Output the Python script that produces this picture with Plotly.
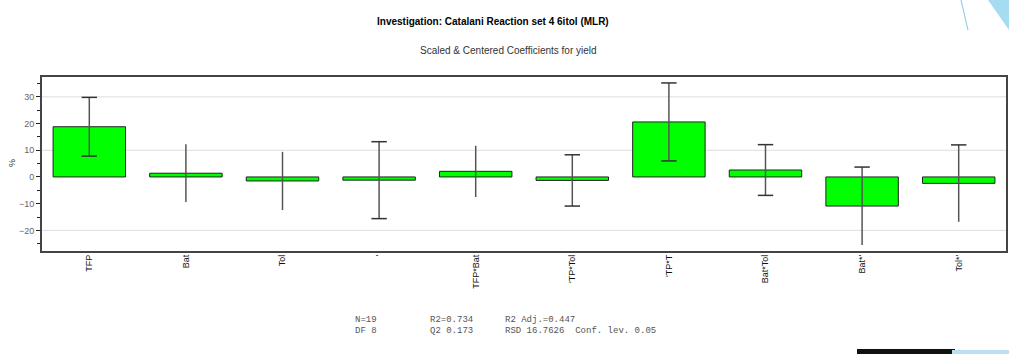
import plotly.graph_objects as go

# ---- data ----
terms = ["TFP", "Bat", "Tol", "'", "TFP*Bat", "'TP*Tol", "'TP*T", "Bat*Tol", "Bat*'", "Tol*'"]
coef = [18.8, 1.4, -1.5, -1.2, 2.1, -1.3, 20.6, 2.6, -10.9, -2.4]
conf = [11.0, 10.8, 10.9, 14.4, 9.6, 9.6, 14.6, 9.5, 14.6, 14.4]
cap_top = [1, 0, 0, 1, 0, 1, 1, 1, 1, 1]
cap_bottom = [1, 0, 0, 1, 0, 1, 1, 1, 0, 0]
grid_vals = [30, 10, -20]
stats_line1 = ["N=19", "R2=0.734", "R2 Adj.=0.447"]
stats_line2 = ["DF 8", "Q2 0.173", "RSD 16.7626  Conf. lev. 0.05"]

W, H = 1009, 354
L, R, T, B = 41, 2, 76, 102
pw, ph = W - L - R, H - T - B

def px(x):
    return (x - L) / pw

def py(y):
    return (H - B - y) / ph

fig = go.Figure()
fig.add_trace(go.Bar(
    x=terms, y=coef, width=0.75,
    marker=dict(color="#00FF00", line=dict(color="#222222", width=1)),
    error_y=dict(type="data", array=conf, visible=True, width=0,
                 thickness=1.5, color="#555555"),
    hoverinfo="x+y", showlegend=False,
))
# caps
top_x = [t for t, c in zip(terms, cap_top) if c]
top_y = [v + e for v, e, c in zip(coef, conf, cap_top) if c]
bot_x = [t for t, c in zip(terms, cap_bottom) if c]
bot_y = [v - e for v, e, c in zip(coef, conf, cap_bottom) if c]
for xs, ys in ((top_x, top_y), (bot_x, bot_y)):
    fig.add_trace(go.Scatter(
        x=xs, y=ys, mode="markers", showlegend=False, hoverinfo="skip",
        marker=dict(symbol="line-ew", size=11, line=dict(color="#333333", width=1.5)),
    ))

shapes = []
for g in grid_vals:
    shapes.append(dict(type="line", xref="paper", yref="y", x0=0, x1=1, y0=g, y1=g,
                       line=dict(color="#dddddd", width=1), layer="below"))
# frame
shapes.append(dict(type="rect", xref="paper", yref="paper", x0=0, x1=1, y0=0, y1=1,
                   line=dict(color="#444444", width=2)))
# decorations (top-right / bottom-right)
shapes.append(dict(type="line", xref="paper", yref="paper", x0=px(961), y0=py(0), x1=px(968), y1=py(30),
                   line=dict(color="#7fc8ea", width=1)))
shapes.append(dict(type="path", xref="paper", yref="paper",
                   path=f"M {px(988):.5f},{py(0):.5f} L {px(1009):.5f},{py(0):.5f} L {px(1009):.5f},{py(30):.5f} Z",
                   fillcolor="#a6dcf2", line=dict(width=0)))
shapes.append(dict(type="rect", xref="paper", yref="paper", x0=px(857), x1=px(955), y0=py(354), y1=py(349),
                   fillcolor="#111111", line=dict(width=0)))
shapes.append(dict(type="rect", xref="paper", yref="paper", x0=px(952), x1=px(1009), y0=py(354), y1=py(350),
                   fillcolor="#b8e2f4", line=dict(width=0)))

annotations = [
    dict(text="<b>Investigation: Catalani Reaction set 4 6itol (MLR)</b>", xref="paper", yref="paper",
         x=px(493), y=py(21), xanchor="center", yanchor="middle", showarrow=False,
         font=dict(family="Liberation Sans", size=10, color="#000000")),
    dict(text="Scaled & Centered Coefficients for yield", xref="paper", yref="paper",
         x=px(508), y=py(50), xanchor="center", yanchor="middle", showarrow=False,
         font=dict(family="Liberation Sans", size=10, color="#333333")),
    dict(text="%", xref="paper", yref="paper", x=px(12), y=py(163), textangle=-90,
         xanchor="center", yanchor="middle", showarrow=False,
         font=dict(family="Liberation Sans", size=9, color="#333333")),
]
xs_stats = [353, 428, 503]
for line, yy in ((stats_line1, 320), (stats_line2, 331)):
    for txt, xx in zip(line, xs_stats):
        annotations.append(dict(text=txt, xref="paper", yref="paper", x=px(xx), y=py(yy),
                                xanchor="left", yanchor="middle", showarrow=False,
                                font=dict(family="Liberation Mono", size=9, color="#555555")))

fig.update_layout(
    width=W, height=H,
    margin=dict(l=L, r=R, t=T, b=B, autoexpand=False),
    paper_bgcolor="white", plot_bgcolor="white",
    shapes=shapes, annotations=annotations,
    bargap=0.25,
    xaxis=dict(range=[-0.5, 9.5], tickangle=-90, showgrid=False, showline=False,
               ticks="", tickfont=dict(family="Liberation Sans", size=9, color="#111111"),
               zeroline=False),
    yaxis=dict(range=[-28.1, 37.8], dtick=10, showgrid=False, zeroline=False,
               ticks="outside", ticklen=4, tickcolor="#222222",
               minor=dict(dtick=5, ticks="outside", ticklen=3, tickcolor="#222222"),
               tickfont=dict(family="Liberation Sans", size=9, color="#666666")),
)

fig.write_html("out.html", config={"displayModeBar": False},
               post_script="document.body.style.margin='0';")
